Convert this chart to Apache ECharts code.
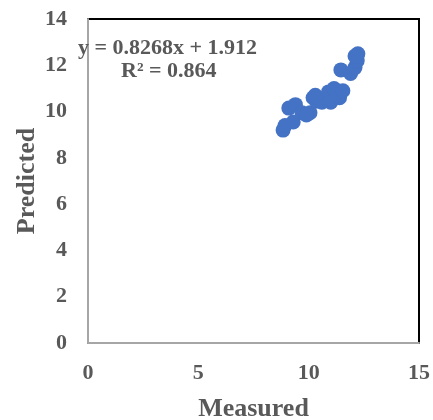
<!DOCTYPE html>
<html>
<head>
<meta charset="utf-8">
<script src="https://cdn.jsdelivr.net/npm/echarts@6/dist/echarts.min.js"></script>
<style>
  html, body { margin: 0; padding: 0; background: #fff; }
  #main { width: 433px; height: 420px; }
</style>
</head>
<body>
<div id="main"></div>
<script>
// measured vs predicted
var measured = [8.84, 8.93, 9.3, 9.1, 9.4, 9.7, 10.06, 10.2, 10.35, 10.6, 10.9, 11.15, 11.0, 11.4, 11.55, 11.46, 11.9, 12.1, 12.2, 12.23, 12.1, 10.3, 9.9];
var predicted = [9.2, 9.4, 9.55, 10.15, 10.3, 9.95, 9.95, 10.6, 10.45, 10.4, 10.85, 11.0, 10.4, 10.6, 10.9, 11.8, 11.65, 11.9, 12.2, 12.5, 12.4, 10.7, 9.85];
var eqLine = 'y = 0.8268x + 1.912';
var r2Line = 'R² = 0.864';

var pts = [];
for (var i = 0; i < measured.length; i++) {
    pts.push([measured[i], predicted[i]]);
}

var chart = echarts.init(document.getElementById('main'));
var txt = '#595959';
var fnt = '"Liberation Serif", "Times New Roman", serif';

var option = {
    animation: false,
    grid: {
        left: 88, right: 14, top: 19, bottom: 77,
        containLabel: false,
        outerBoundsMode: 'none',
        show: true,
        borderColor: '#000',
        borderWidth: 2,
        backgroundColor: '#fff'
    },
    xAxis: {
        type: 'value',
        min: 0, max: 15, interval: 5,
        name: 'Measured',
        nameLocation: 'middle',
        nameGap: 53,
        nameMoveOverlap: false,
        nameTextStyle: { color: txt, fontFamily: fnt, fontWeight: 'bold', fontSize: 26 },
        axisLine: { show: true, lineStyle: { color: '#a6a6a6', width: 2 } },
        axisTick: { show: false },
        splitLine: { show: false },
        axisLabel: { color: txt, fontFamily: fnt, fontWeight: 'bold', fontSize: 22, margin: 19 }
    },
    yAxis: {
        type: 'value',
        min: 0, max: 14, interval: 2,
        name: 'Predicted',
        nameLocation: 'middle',
        nameGap: 48,
        nameMoveOverlap: false,
        nameTextStyle: { color: txt, fontFamily: fnt, fontWeight: 'bold', fontSize: 26 },
        axisLine: { show: true, lineStyle: { color: '#a6a6a6', width: 2 } },
        axisTick: { show: false },
        splitLine: { show: false },
        axisLabel: { color: txt, fontFamily: fnt, fontWeight: 'bold', fontSize: 22, margin: 21 }
    },
    graphic: [
        {
            type: 'text', left: 78, top: 37, z: 100,
            style: { text: eqLine, fill: txt, font: 'bold 22px ' + fnt }
        },
        {
            type: 'text', left: 121, top: 60, z: 100,
            style: { text: r2Line, fill: txt, font: 'bold 22px ' + fnt }
        }
    ],
    series: [{
        type: 'scatter',
        data: pts,
        symbolSize: 15,
        itemStyle: { color: '#4472C4', opacity: 1 }
    }]
};
chart.setOption(option);
</script>
</body>
</html>
